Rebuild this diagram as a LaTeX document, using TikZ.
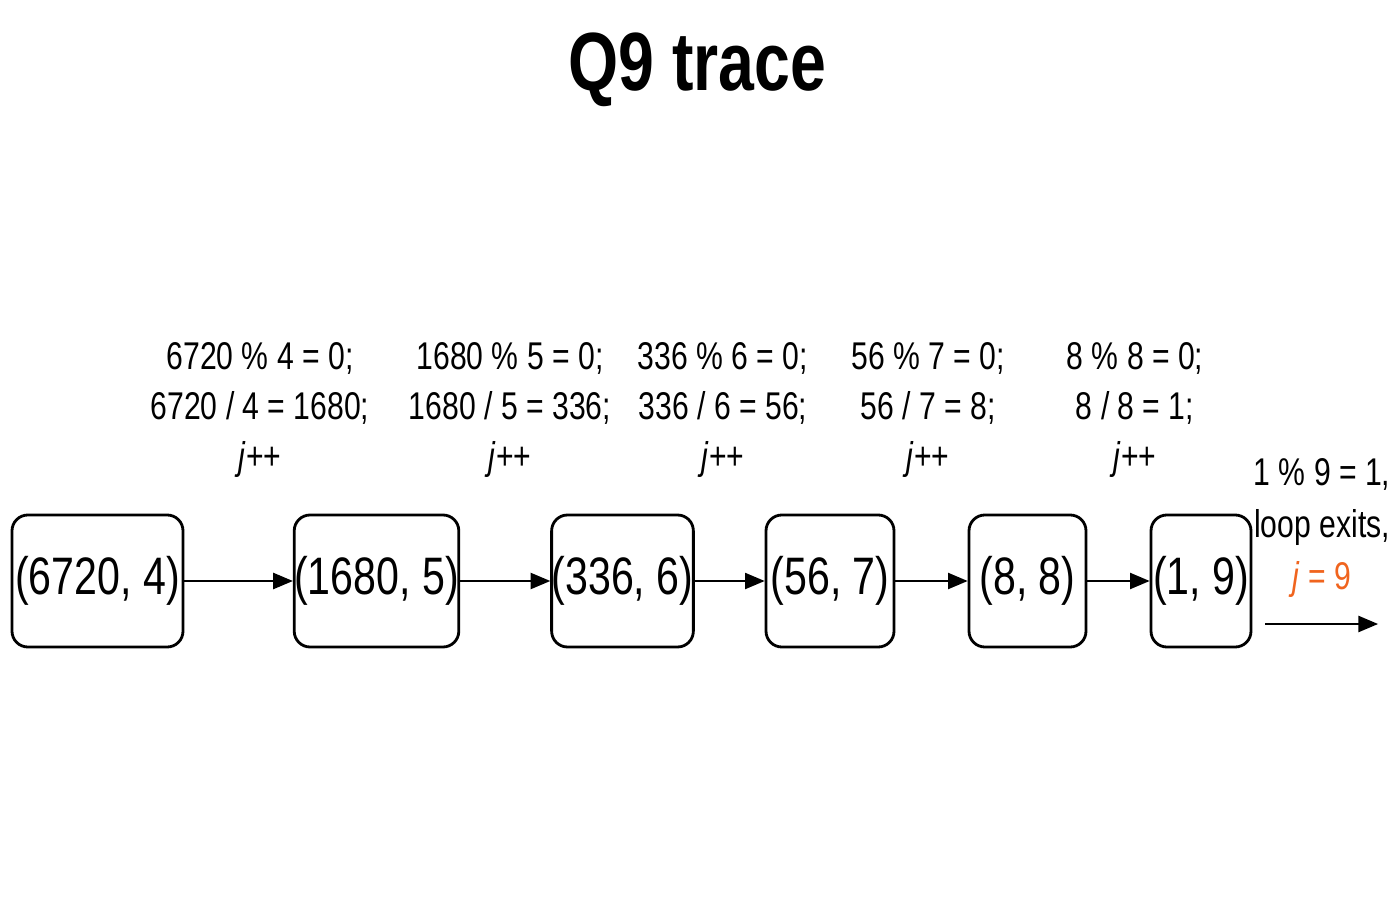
\documentclass[tikz,border=0pt]{standalone}
\usepackage{fontspec}
\setmainfont[FakeStretch=0.78]{Liberation Sans}
\usetikzlibrary{arrows}
\usetikzlibrary{positioning, calc}
\definecolor{exitorange}{RGB}{240,100,30}
\begin{document}
\begin{tikzpicture}[
    state/.style={draw=black, line width=1.6pt, rounded corners=9pt, minimum height=2.64cm,
      inner sep=0pt, font=\fontsize{30}{34}\selectfont},
    calcnote/.style={align=center, font=\fontsize{22}{28.5}\selectfont},
    link/.style={line width=1.6pt, -triangle 45}]
      \useasboundingbox (0, 0) rectangle (28, 18);
      \node[font=\fontsize{47}{50}\bfseries\selectfont] (title) at (13.95, 16.6) {Q9 trace};

      \node[state, minimum width=3.42cm] (s1) at (1.95, 6.38) {(6720, 4)};
      \node[state, minimum width=3.18cm] (s2) at (7.53, 6.38) {(1680, 5)};
      \node[state, minimum width=2.78cm] (s3) at (12.45, 6.38) {(336, 6)};
      \node[state, minimum width=2.56cm] (s4) at (16.6, 6.38) {(56, 7)};
      \node[state, minimum width=2.34cm] (s5) at (20.55, 6.38) {(8, 8)};
      \node[state, minimum width=2.0cm] (s6) at (24.02, 6.38) {(1, 9)};

      \draw[link] (s1) -- (s2);
      \draw[link] (s2) -- (s3);
      \draw[link] (s3) -- (s4);
      \draw[link] (s4) -- (s5);
      \draw[link] (s5) -- (s6);

      \node[calcnote] (c1) at (5.2, 9.8) {6720 \% 4 = 0;\\6720 / 4 = 1680;\\\textit{j}++};
      \node[calcnote] (c2) at (10.2, 9.8) {1680 \% 5 = 0;\\1680 / 5 = 336;\\\textit{j}++};
      \node[calcnote] (c3) at (14.46, 9.8) {336 \% 6 = 0;\\336 / 6 = 56;\\\textit{j}++};
      \node[calcnote] (c4) at (18.56, 9.8) {56 \% 7 = 0;\\56 / 7 = 8;\\\textit{j}++};
      \node[calcnote] (c5) at (22.7, 9.8) {8 \% 8 = 0;\\8 / 8 = 1;\\\textit{j}++};

      \node[calcnote, font=\fontsize{22}{29.6}\selectfont] (exit) at (26.44, 7.44)
        {1 \% 9 = 1,\\loop exits,\\\textcolor{exitorange}{\textit{j} = 9}};
      \coordinate (out1) at (25.3, 5.52);
      \coordinate (out2) at (27.56, 5.52);
      \draw[link] (out1) -- (out2);
\end{tikzpicture}
\end{document}
